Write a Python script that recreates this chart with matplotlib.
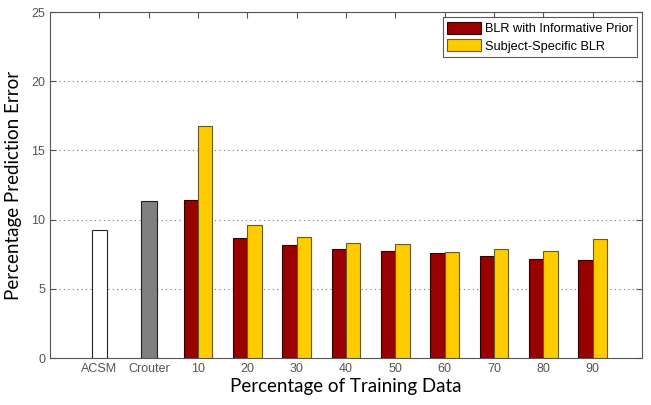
import numpy as np
import matplotlib.pyplot as plt

plt.rcParams['font.family'] = ['Liberation Sans', 'DejaVu Sans']

baseline_names = ['ACSM', 'Crouter']
baseline_values = [9.25, 11.34]
baseline_colors = ['white', '#808080']

train_pct = ['10', '20', '30', '40', '50', '60', '70', '80', '90']
blr_prior = [11.39, 8.67, 8.19, 7.85, 7.73, 7.61, 7.37, 7.18, 7.08]
blr_subject = [16.75, 9.59, 8.72, 8.31, 8.26, 7.66, 7.90, 7.73, 8.62]

fig = plt.figure(figsize=(6.51, 4.05), dpi=100)
ax = fig.add_axes([0.077, 0.116, 0.909, 0.854])

x_base = np.arange(1, len(baseline_names) + 1)
x_grp = np.arange(len(baseline_names) + 1, len(baseline_names) + len(train_pct) + 1)
w = 0.29

ax.bar(x_base, baseline_values, width=0.32, color=baseline_colors,
       edgecolor='#222222', linewidth=0.8, zorder=3)
ax.bar(x_grp - w / 2, blr_prior, width=w, color='#990000',
       edgecolor='#330000', linewidth=0.8, zorder=3, label='BLR with Informative Prior')
ax.bar(x_grp + w / 2, blr_subject, width=w, color='#FFCC00',
       edgecolor='#665a20', linewidth=0.8, zorder=3, label='Subject-Specific BLR')

ax.set_xlim(0, 12)
ax.set_ylim(0, 25)
ax.set_xticks(list(x_base) + list(x_grp))
ax.set_xticklabels(baseline_names + train_pct)
ax.set_yticks(range(0, 26, 5))
ax.yaxis.grid(True, linestyle=(0, (1, 3)), color='#777777', linewidth=0.8, zorder=0)
ax.tick_params(direction='in', top=True, right=True, length=4,
               labelsize=9, labelcolor='#555555', color='#555555')
for s in ax.spines.values():
    s.set_color('#555555')
    s.set_linewidth(0.8)

ax.set_xlabel('Percentage of Training Data', fontsize=13.5, family=['Lato', 'DejaVu Sans'], labelpad=2)
ax.set_ylabel('Percentage Prediction Error', fontsize=13.5, family=['Lato', 'DejaVu Sans'], labelpad=7)

leg = ax.legend(loc='upper right', fontsize=9.2, frameon=True, fancybox=False,
                edgecolor='#333333', borderaxespad=0.4, handlelength=2.6,
                handleheight=1.1, handletextpad=0.3, labelspacing=0.3, borderpad=0.35)
leg.get_frame().set_linewidth(0.8)

fig.savefig('out.png', dpi=100)
